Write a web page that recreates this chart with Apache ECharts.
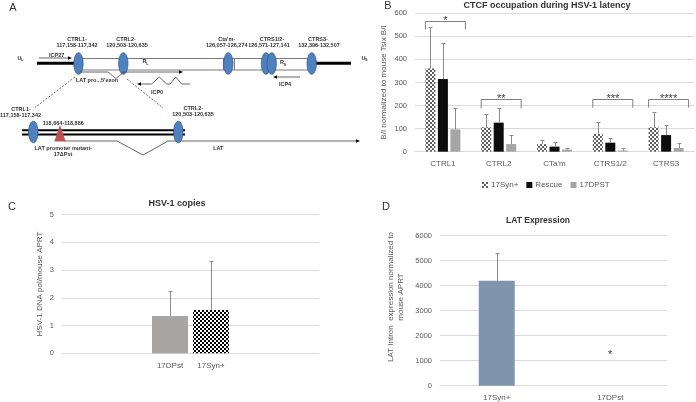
<!DOCTYPE html>
<html><head><meta charset="utf-8">
<script src="https://cdn.jsdelivr.net/npm/echarts@6/dist/echarts.min.js"></script>
<style>html,body{margin:0;padding:0;background:#fff}#c{width:696px;height:402px}</style>
</head><body><div id="c"></div>
<script>
// ---- Panel B data ----
const bCats = ['CTRL1', 'CTRL2', "CTa'm", 'CTRS1/2', 'CTRS3'];
const bSyn = [361, 106, 33, 77, 106];
const bSynErr = [539, 162, 49, 130, 171];
const bRescue = [315, 126, 22, 39, 72];
const bRescueErr = [470, 188, 42, 58, 116];
const bDpst = [97, 33, 9, 5, 16];
const bDpstErr = [188, 71, 18, 18, 36];
const bSig = [['CTRL1', 568, 530, '*'], ['CTRL2', 227, 188, '**'], ['CTRS1/2', 227, 191, '***'], ['CTRS3', 227, 191, '****']];
const bSeriesNames = ['17Syn+', 'Rescue', '17DPST'];
const bYMax = 600, bYStep = 100;
// ---- Panel C data ----
const cCats = ['17DPst', '17Syn+'];
const cVals = [1.35, 1.56];
const cErr = [2.25, 3.32];
const cYMax = 5, cYStep = 1;
// ---- Panel D data ----
const dCats = ['17Syn+', '17DPst'];
const dVals = [4200, null];
const dErr = [5300, null];
const dStar = [['17DPst', 1300, '*']];
const dYMax = 6000, dYStep = 1000;

function checker(c1, c2, s) {
  const cv = document.createElement('canvas');
  cv.width = cv.height = 2 * s;
  const ctx = cv.getContext('2d');
  ctx.fillStyle = c2; ctx.fillRect(0, 0, 2 * s, 2 * s);
  ctx.fillStyle = c1; ctx.fillRect(0, 0, s, s); ctx.fillRect(s, s, s, s);
  return { image: cv, repeat: 'repeat' };
}
const patB = checker('#5f5f5f', '#ffffff', 2);
const patC = checker('#000000', '#ffffff', 2);

const FF = "'Liberation Sans', Arial, sans-serif";
const axisTxt = '#595959';
const gridCol = '#d9d9d9';
const errCol = '#8c8c8c';

function errRender(offset) {
  return function (params, api) {
    const i = api.value(0);
    const base = api.coord([i, api.value(1)]);
    const top = api.coord([i, api.value(2)]);
    const x = Math.round(base[0] + offset) + 0.5;
    const yt = Math.round(top[1]) + 0.5;
    return { type: 'group', children: [
      { type: 'line', shape: { x1: x, y1: base[1], x2: x, y2: yt }, style: { stroke: errCol, lineWidth: 1 } },
      { type: 'line', shape: { x1: x - 2, y1: yt, x2: x + 2, y2: yt }, style: { stroke: errCol, lineWidth: 1 } }
    ] };
  };
}
function errData(cats, vals, errs) {
  const out = [];
  vals.forEach((v, i) => { if (v != null) out.push([i, v, errs[i]]); });
  return out;
}

// ---- Panel A schematic (drawing, not data) ----
const lab = (t, x, y, size, weight, color) => ({
  type: 'text', x: x, y: y, silent: true,
  style: { text: t, fill: color || '#333', fontSize: size || 5.5, fontWeight: weight || 'bold', fontFamily: FF,
    align: 'center', verticalAlign: 'middle', textAlign: 'center', textVerticalAlign: 'middle' }
});
const ell = (cx, cy) => ({ type: 'ellipse', shape: { cx: cx, cy: cy, rx: 4.7, ry: 10.8 }, style: { fill: '#4f81bd', stroke: '#2f528f', lineWidth: 0.7 } });
const pl = (pts, dash) => ({ type: 'polyline', shape: { points: pts }, style: { stroke: '#404040', lineWidth: 0.8, fill: null, lineDash: dash || null } });
const headR = (x, y) => ({ type: 'polygon', shape: { points: [[x, y], [x - 4, y - 1.8], [x - 4, y + 1.8]] }, style: { fill: '#000' } });
const headL = (x, y) => ({ type: 'polygon', shape: { points: [[x, y], [x + 4, y - 1.8], [x + 4, y + 1.8]] }, style: { fill: '#000' } });

const graphicA = [
  lab('A', 13, 8, 11, 'normal'),
  lab('B', 388, 6, 11, 'normal'),
  lab('C', 12, 207, 11, 'normal'),
  lab('D', 386, 207, 11, 'normal'),
  // titles
  lab('CTCF occupation during HSV-1 latency', 547, 6, 9, 'bold', '#333'),
  lab('HSV-1 copies', 177, 204, 9, 'bold', '#333'),
  lab('LAT Expression', 538, 221, 8.5, 'bold', '#333'),
  // D y-axis title
  { type: 'text', x: 396, y: 297, rotation: Math.PI / 2, silent: true,
    style: { text: 'LAT Intron  expression normalized to\nmouse APRT', fill: axisTxt, fontSize: 8, fontFamily: FF, lineHeight: 10,
      align: 'center', verticalAlign: 'middle', textAlign: 'center', textVerticalAlign: 'middle' } },
  // top genome line
  { type: 'rect', shape: { x: 37, y: 61.8, width: 41, height: 3 }, style: { fill: '#000' } },
  { type: 'rect', shape: { x: 311, y: 61.8, width: 40, height: 3 }, style: { fill: '#000' } },
  { type: 'rect', shape: { x: 78.5, y: 58.5, width: 234, height: 11.5 }, style: { fill: '#fff', stroke: '#595959', lineWidth: 0.8 } },
  { type: 'line', shape: { x1: 223.5, y1: 58.5, x2: 223.5, y2: 70 }, style: { stroke: '#595959', lineWidth: 0.8 } },
  { type: 'line', shape: { x1: 234.5, y1: 58.5, x2: 234.5, y2: 70 }, style: { stroke: '#595959', lineWidth: 0.8 } },
  { type: 'line', shape: { x1: 262.5, y1: 58.5, x2: 262.5, y2: 70 }, style: { stroke: '#595959', lineWidth: 0.8 } },
  ell(78.5, 63.5), ell(123.3, 63.5), ell(228.3, 63.5), ell(266, 63.5), ell(271.7, 63.5), ell(311.7, 63.5),
  lab('U', 19.5, 58), lab('L', 22.5, 60, 3.8),
  lab('U', 363.5, 58), lab('S', 366.3, 60, 3.8),
  lab('R', 144.5, 61.5), lab('L', 147.3, 63.5, 3.8),
  lab('R', 282, 62.5), lab('S', 284.8, 64.5, 3.8),
  lab('CTRL1-', 77, 39), lab('117,158-117,342', 77, 45.5),
  lab('CTRL2-', 126, 39), lab('120,503-120,635', 127, 45.5),
  lab("Cta'm-", 226.7, 39), lab('126,057-126,274', 226.7, 45.5),
  lab('CTRS1/2-', 272, 39), lab('126,571-127,141', 269, 45.5),
  lab('CTRS3-', 318, 39), lab('132,396-132,507', 319, 45.5),
  // ICP27
  pl([[39, 58], [68, 58]]), headR(72, 58), lab('ICP27', 56.7, 55.5),
  // LAT pro ... 5' exon
  pl([[80, 72], [108, 72], [116, 78.5], [124, 72], [179, 72]]), headR(183, 72),
  lab("LAT pro...5'exon", 97, 80),
  // ICP0
  pl([[190, 84], [181.7, 84], [175.7, 77], [170, 84], [166.7, 84], [159.3, 77], [151.7, 84], [141, 84]]), headL(137, 84),
  lab('ICP0', 157, 92),
  // ICP4
  pl([[300, 77], [277, 77]]), headL(273, 77), lab('ICP4', 285, 84),
  // dashed zoom lines
  pl([[75, 77], [35, 107.5]], [2, 1.5]), pl([[127, 79], [163, 108]], [2, 1.5]),
  // lower LAT region
  { type: 'rect', shape: { x: 22, y: 129.3, width: 163, height: 2 }, style: { fill: '#000' } },
  { type: 'rect', shape: { x: 22, y: 133.5, width: 163, height: 2 }, style: { fill: '#000' } },
  pl([[65, 141], [117, 141], [143, 155], [168, 141], [356, 141]]), headR(360, 141),
  ell(33.3, 132), ell(178.3, 132),
  { type: 'polygon', shape: { points: [[60, 125], [54.3, 141.5], [65.7, 141.5]] }, style: { fill: '#c0504d' } },
  lab('CTRL1-', 21, 109), lab('117,158-117,342', 20.5, 115),
  lab('118,664-118,886', 63.3, 123),
  lab('CTRL2-', 193.3, 108.5), lab('120,503-120,635', 193, 114.5),
  lab('LAT promoter mutant-', 63.3, 148), lab('17\u0394Pst', 63, 154.5),
  lab('LAT', 218.3, 148)
];

const chart = echarts.init(document.getElementById('c'), null, { renderer: 'canvas', width: 696, height: 402 });

const catAxisBase = {
  type: 'category', axisTick: { show: false },
  axisLine: { show: true, lineStyle: { color: gridCol, width: 1 } },
  axisLabel: { color: axisTxt, fontSize: 8, fontFamily: FF, margin: 8 }
};
const valAxisBase = {
  type: 'value', axisLine: { show: false }, axisTick: { show: false },
  splitLine: { lineStyle: { color: gridCol, width: 1 } },
  axisLabel: { color: axisTxt, fontSize: 7.5, fontFamily: FF, margin: 8, formatter: v => String(v) },
  nameLocation: 'middle', nameRotate: 90,
  nameTextStyle: { color: axisTxt, fontSize: 8, fontFamily: FF, lineHeight: 10 }
};

const option = {
  animation: false,
  backgroundColor: '#fff',
  textStyle: { fontFamily: FF },
  grid: [
    { left: 415, top: 13.3, width: 279, height: 138.4 },
    { left: 62, top: 214.7, width: 257, height: 138.6 },
    { left: 149.5, top: 214.7, width: 82, height: 138.6 },
    { left: 440, top: 235.7, width: 227, height: 150 }
  ],
  xAxis: [
    Object.assign({}, catAxisBase, { gridIndex: 0, data: bCats }),
    Object.assign({}, catAxisBase, { gridIndex: 1, data: [''], axisLabel: { show: false } }),
    Object.assign({}, catAxisBase, { gridIndex: 2, data: cCats, axisLine: { show: false } }),
    Object.assign({}, catAxisBase, { gridIndex: 3, data: dCats })
  ],
  yAxis: [
    Object.assign({}, valAxisBase, { gridIndex: 0, min: 0, max: bYMax, interval: bYStep, name: 'B/I normalized to mouse Tsix B/I', nameGap: 26 }),
    Object.assign({}, valAxisBase, { gridIndex: 1, min: 0, max: cYMax, interval: cYStep, name: 'HSV-1 DNA pol/mouse APRT', nameGap: 17 }),
    { type: 'value', gridIndex: 2, min: 0, max: cYMax, show: false },
    Object.assign({}, valAxisBase, { gridIndex: 3, min: 0, max: dYMax, interval: dYStep })
  ],
  legend: {
    data: bSeriesNames, left: 477, top: 176, itemWidth: 6, itemHeight: 6, itemGap: 8,
    textStyle: { color: axisTxt, fontSize: 8, fontFamily: FF, padding: [0, 0, 0, -2] },
    icon: 'rect'
  },
  graphic: { elements: graphicA },
  series: [
    { name: bSeriesNames[0], type: 'bar', xAxisIndex: 0, yAxisIndex: 0, data: bSyn, barWidth: 10, barGap: '25%', itemStyle: { color: patB } },
    { name: bSeriesNames[1], type: 'bar', xAxisIndex: 0, yAxisIndex: 0, data: bRescue, barWidth: 10, barGap: '25%', itemStyle: { color: '#0d0d0d' } },
    { name: bSeriesNames[2], type: 'bar', xAxisIndex: 0, yAxisIndex: 0, data: bDpst, barWidth: 10, barGap: '25%', itemStyle: { color: '#a5a5a5' } },
    { type: 'custom', xAxisIndex: 0, yAxisIndex: 0, renderItem: errRender(-12.5), data: errData(bCats, bSyn, bSynErr), z: 3, silent: true },
    { type: 'custom', xAxisIndex: 0, yAxisIndex: 0, renderItem: errRender(0), data: errData(bCats, bRescue, bRescueErr), z: 3, silent: true },
    { type: 'custom', xAxisIndex: 0, yAxisIndex: 0, renderItem: errRender(12.5), data: errData(bCats, bDpst, bDpstErr), z: 3, silent: true },
    { type: 'custom', xAxisIndex: 0, yAxisIndex: 0, clip: false, silent: true, z: 4,
      data: bSig.map(s => [bCats.indexOf(s[0]), s[1], s[2]]),
      renderItem: function (params, api) {
        const i = api.value(0);
        const t = api.coord([i, api.value(1)]);
        const b = api.coord([i, api.value(2)]);
        const cx = t[0] + 2.5, h = 20;
        const yt = Math.round(t[1]) + 0.5;
        const lbl = bSig[params.dataIndex][3];
        return { type: 'group', children: [
          { type: 'polyline', shape: { points: [[cx - h, b[1]], [cx - h, yt], [cx + h, yt], [cx + h, b[1]]] }, style: { stroke: '#7f7f7f', lineWidth: 1, fill: null } },
          { type: 'text', x: cx, y: yt - 1, style: { text: lbl, fill: '#404040', fontSize: 11, fontFamily: FF, align: 'center', verticalAlign: 'middle', textAlign: 'center', textVerticalAlign: 'middle' } }
        ] };
      } },
    // Panel C
    { name: 'C', type: 'bar', xAxisIndex: 2, yAxisIndex: 2, barWidth: 36,
      data: cVals.map((v, i) => ({ value: v, itemStyle: { color: i === 0 ? '#a8a5a5' : patC } })) },
    { type: 'custom', xAxisIndex: 2, yAxisIndex: 2, renderItem: errRender(0), data: errData(cCats, cVals, cErr), z: 3, silent: true },
    // Panel D
    { name: 'D', type: 'bar', xAxisIndex: 3, yAxisIndex: 3, barWidth: 36, data: dVals, itemStyle: { color: '#7f95ae' } },
    { type: 'custom', xAxisIndex: 3, yAxisIndex: 3, renderItem: errRender(0), data: errData(dCats, dVals, dErr), z: 3, silent: true },
    { type: 'custom', xAxisIndex: 3, yAxisIndex: 3, silent: true, z: 4,
      data: dStar.map(s => [dCats.indexOf(s[0]), s[1]]),
      renderItem: function (params, api) {
        const p = api.coord([api.value(0), api.value(1)]);
        return { type: 'text', x: p[0], y: p[1] + 2, style: { text: dStar[params.dataIndex][2], fill: '#333', fontSize: 11, fontFamily: FF, align: 'center', verticalAlign: 'middle', textAlign: 'center', textVerticalAlign: 'middle' } };
      } }
  ]
};
chart.setOption(option);
</script>
</body></html>
